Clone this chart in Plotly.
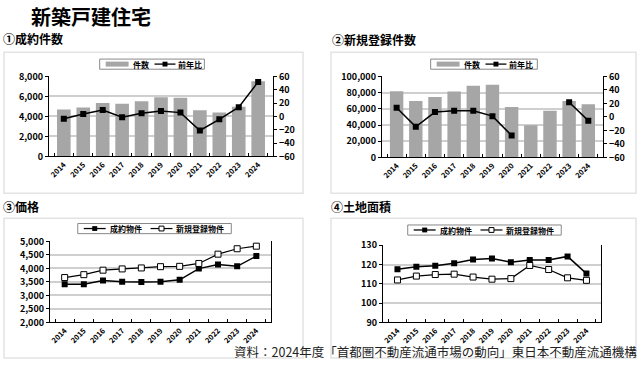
import plotly.graph_objects as go

years = ["2014", "2015", "2016", "2017", "2018", "2019", "2020", "2021", "2022", "2023", "2024"]

# ① 成約件数
contract_counts = [4700, 4900, 5350, 5280, 5520, 5920, 5860, 4610, 4390, 4960, 7520]
contract_yoy = [-3.4, 3.8, 9.6, -1.0, 4.8, 8.2, 5.8, -21.0, -4.3, 13.9, 51.8]

# ② 新規登録件数
listing_counts = [81700, 69700, 74500, 81300, 88400, 89600, 62200, 39800, 57800, 69700, 65700]
listing_yoy = [13.6, -14.6, 7.2, 9.1, 9.1, 1.2, -27.5, None, None, 21.8, -5.5]

# ③ 価格 (万円)
price_contract = [3410, 3410, 3550, 3506, 3494, 3506, 3577, 3992, 4146, 4075, 4455]
price_listing = [3660, 3767, 3933, 3980, 4016, 4063, 4075, 4182, 4526, 4727, 4822]

# ④ 土地面積 (㎡)
land_contract = [117.6, 118.9, 119.3, 120.7, 122.6, 123.1, 121.2, 122.4, 122.4, 124.2, 115.3]
land_listing = [112.0, 114.0, 114.8, 115.0, 113.5, 112.4, 112.7, 119.5, 117.4, 113.1, 111.8]

W, H = 640, 366
def px(x):
    return x / W
def py(y):
    return 1 - y / H

JP = "Noto Sans CJK JP"
BAR = "#a6a6a6"
GRID = "#cfcfcf"
tickfont = dict(family=JP, size=9, color="#000", weight="bold")
xtickfont = dict(family=JP, size=7.5, color="#000", weight="bold")

fig = go.Figure()

# chart 1
fig.add_trace(go.Bar(x=years, y=contract_counts, name="件数", marker=dict(color=BAR, line=dict(width=0)),
                     xaxis="x", yaxis="y"))
fig.add_trace(go.Scatter(x=years, y=contract_yoy, name="前年比", mode="lines+markers",
                         line=dict(color="#000", width=1.5), marker=dict(symbol="square", size=6, color="#000"),
                         xaxis="x", yaxis="y2"))
# chart 2
fig.add_trace(go.Bar(x=years, y=listing_counts, name="件数", marker=dict(color=BAR, line=dict(width=0)),
                     xaxis="x2", yaxis="y3"))
fig.add_trace(go.Scatter(x=years, y=listing_yoy, name="前年比", mode="lines+markers", connectgaps=False,
                         line=dict(color="#000", width=1.5), marker=dict(symbol="square", size=6, color="#000"),
                         xaxis="x2", yaxis="y4"))
# chart 3
fig.add_trace(go.Scatter(x=years, y=price_contract, name="成約物件", mode="lines+markers",
                         line=dict(color="#000", width=1.5), marker=dict(symbol="square", size=6, color="#000"),
                         xaxis="x3", yaxis="y5"))
fig.add_trace(go.Scatter(x=years, y=price_listing, name="新規登録物件", mode="lines+markers",
                         line=dict(color="#000", width=1.2),
                         marker=dict(symbol="square", size=6, color="#fff", line=dict(color="#000", width=1)),
                         xaxis="x3", yaxis="y5"))
# chart 4
fig.add_trace(go.Scatter(x=years, y=land_contract, name="成約物件", mode="lines+markers",
                         line=dict(color="#000", width=1.5), marker=dict(symbol="square", size=6, color="#000"),
                         xaxis="x4", yaxis="y6"))
fig.add_trace(go.Scatter(x=years, y=land_listing, name="新規登録物件", mode="lines+markers",
                         line=dict(color="#000", width=1.2),
                         marker=dict(symbol="square", size=6, color="#fff", line=dict(color="#000", width=1)),
                         xaxis="x4", yaxis="y6"))

def xax(dom, anchor):
    return dict(domain=dom, anchor=anchor, type="category", tickangle=-45, tickfont=xtickfont,
                showline=True, linecolor="#000", linewidth=1, ticks="inside", ticklen=3,
                tickson="boundaries", tickcolor="#000", showgrid=False, fixedrange=True)

def yax(dom, anchor, rng, dtick, fmt=",d", mirror=False):
    return dict(domain=dom, anchor=anchor, range=rng, dtick=dtick, tickformat=fmt, tickfont=tickfont,
                showline=True, linecolor="#000", linewidth=1, ticks="outside", ticklen=3, tickcolor="#000",
                showgrid=True, gridcolor=GRID, gridwidth=1.5, zeroline=False, fixedrange=True, mirror=mirror)

def y2ax(overlay, anchor, rng, dtick):
    return dict(overlaying=overlay, anchor=anchor, side="right", range=rng, dtick=dtick, tickfont=tickfont,
                showline=True, linecolor="#000", linewidth=1, ticks="outside", ticklen=3, tickcolor="#000",
                showgrid=False, zeroline=False, fixedrange=True)

fig.update_layout(
    width=W, height=H, margin=dict(l=0, r=0, t=0, b=0),
    paper_bgcolor="#fff", plot_bgcolor="#fff",
    bargap=0.3, showlegend=False,
    xaxis=xax([px(47), px(272)], "y"),
    yaxis=yax([py(155), py(72)], "x", [0, 8000], 2000),
    yaxis2=y2ax("y", "x", [-60, 60], 20),
    xaxis2=xax([px(381), px(603)], "y3"),
    yaxis3=yax([py(156), py(72)], "x2", [0, 100000], 20000),
    yaxis4=y2ax("y3", "x2", [-60, 60], 20),
    xaxis3=xax([px(48), px(270)], "y5"),
    yaxis5=yax([py(327), py(243)], "x3", [2000, 5000], 500, mirror=True),
    xaxis4=xax([px(382), px(601)], "y6"),
    yaxis6=yax([py(327), py(247)], "x4", [90, 130], 10, mirror=True),
)

def rect(x0, y0, x1, y1, line=None, fill="rgba(0,0,0,0)", width=1):
    fig.add_shape(type="rect", xref="paper", yref="paper", x0=px(x0), x1=px(x1), y0=py(y1), y1=py(y0),
                  line=dict(color=line or "rgba(0,0,0,0)", width=width if line else 0), fillcolor=fill, layer="above")

def hline(x0, x1, y, color="#000", width=1.3):
    fig.add_shape(type="line", xref="paper", yref="paper", x0=px(x0), x1=px(x1), y0=py(y), y1=py(y),
                  line=dict(color=color, width=width), layer="above")

def label(text, x, y, size, weight="bold", anchor="left", color="#000"):
    fig.add_annotation(text=text, x=px(x), y=py(y), xref="paper", yref="paper", xanchor=anchor,
                       yanchor="middle", showarrow=False, borderpad=0,
                       font=dict(family=JP, size=size, color=color, weight=weight))

# chart boxes
for (x0, y0, x1, y1) in [(2, 47, 302, 193), (330, 47, 636, 193), (2, 219, 302, 364), (330, 219, 636, 364)]:
    fig.add_shape(type="rect", xref="paper", yref="paper", x0=px(x0), x1=px(x1), y0=py(y1), y1=py(y0),
                  line=dict(color="#e3e3e3", width=1.5), fillcolor="rgba(0,0,0,0)", layer="below")

# legends for bar charts (件数 / 前年比)
def bar_legend(dx, w):
    rect(98 + dx, 54, 98 + dx + w, 64.5, line="#888", fill="#fff", width=1)
    hline(104 + dx, 127 + dx, 59.2, color=BAR, width=5)
    label("件数", 130 + dx, 59.5, 8)
    hline(153 + dx, 174 + dx, 59.2, width=1.3)
    rect(161 + dx, 56.7, 166 + dx, 61.7, fill="#000")
    label("前年比", 176 + dx, 59.5, 8)

bar_legend(0, 105)
bar_legend(332, 107)

# legends for line charts (成約物件 / 新規登録物件)
def line_legend(dx, dy):
    rect(76 + dx, 224.5 + dy, 230 + dx, 235 + dy, line="#888", fill="#fff", width=1)
    hline(82 + dx, 104 + dx, 229.7 + dy, width=1.3)
    rect(90.5 + dx, 227.2 + dy, 95.5 + dx, 232.2 + dy, fill="#000")
    label("成約物件", 107 + dx, 230 + dy, 8)
    hline(149 + dx, 171 + dx, 229.7 + dy, width=1.2)
    rect(157.5 + dx, 227.2 + dy, 162.5 + dx, 232.2 + dy, line="#000", fill="#fff", width=1)
    label("新規登録物件", 174 + dx, 230 + dy, 8)

line_legend(0, 0)
line_legend(331, 1.5)

label("新築戸建住宅", 28, 10, 20)
label("①成約件数", 0, 33, 12)
label("②新規登録件数", 330, 34, 12)
label("③価格", 0, 207, 12)
label("④土地面積", 329, 207, 12)
label("資料：2024年度「首都圏不動産流通市場の動向」東日本不動産流通機構", 638, 357, 12.5, weight="normal", anchor="right", color="#222")

fig.write_html("out.html", config={"displayModeBar": False},
               post_script="document.body.style.margin='0';document.body.style.padding='0';")
